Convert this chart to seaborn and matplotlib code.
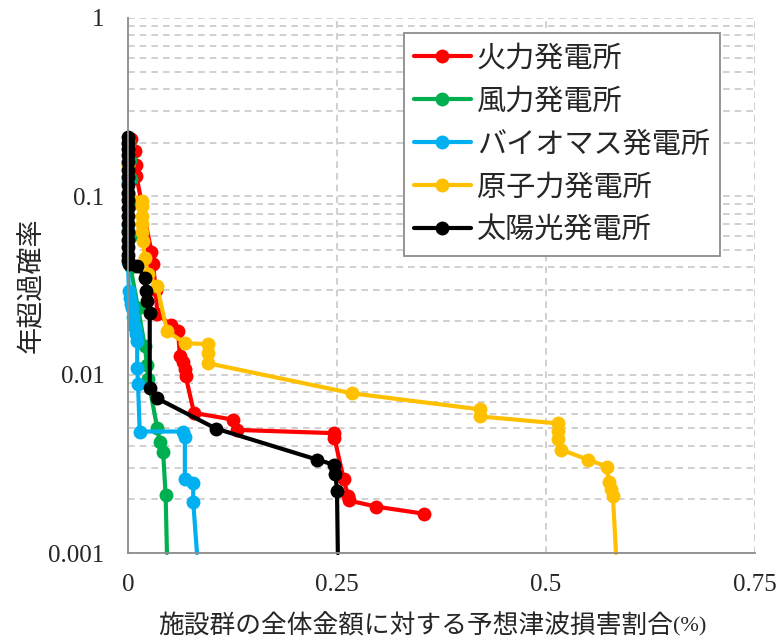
import matplotlib
matplotlib.use("Agg")
import matplotlib.pyplot as plt
import matplotlib.ticker as mticker
import seaborn as sns
import pandas as pd

# ---- data ----
labels = ["火力発電所", "風力発電所", "バイオマス発電所", "原子力発電所", "太陽光発電所"]
colors = ["#FF0000", "#00B050", "#00B0F0", "#FFC000", "#000000"]

x_red = [0.004, 0.008, 0.009, 0.010, 0.028, 0.030, 0.033, 0.035, 0.051, 0.060, 0.062,
         0.066, 0.068, 0.069, 0.079, 0.125, 0.130, 0.246, 0.247, 0.258, 0.263, 0.264,
         0.297, 0.354]
y_red = [0.21, 0.18, 0.15, 0.13, 0.049, 0.042, 0.030, 0.022, 0.019, 0.0176, 0.0127,
         0.0118, 0.0108, 0.0098, 0.0061, 0.0056, 0.0049, 0.0047, 0.0044, 0.0026, 0.0021,
         0.00197, 0.00182, 0.00166]

x_green = [0.001, 0.002, 0.003, 0.003, 0.003, 0.003, 0.012, 0.020, 0.0227, 0.024,
           0.035, 0.038, 0.042, 0.045, 0.0466]
y_green = [0.20, 0.16, 0.125, 0.09, 0.06, 0.040, 0.0237, 0.0145, 0.0114, 0.0095,
           0.0050, 0.0042, 0.0037, 0.00211, 0.001]

x_blue = [0.000, 0.000, 0.000, 0.001, 0.002, 0.004, 0.005, 0.006, 0.007, 0.008, 0.009,
          0.011, 0.011, 0.012, 0.014, 0.066, 0.068, 0.068, 0.078, 0.078, 0.0825]
y_blue = [0.12, 0.064, 0.043, 0.0295, 0.027, 0.025, 0.0237, 0.021, 0.019, 0.0183, 0.017,
          0.0154, 0.01086, 0.00883, 0.0048, 0.0048, 0.0045, 0.00261, 0.00248, 0.00194, 0.001]

x_yellow = [0.000, 0.000, 0.000, 0.0167, 0.0167, 0.0167, 0.0167, 0.017, 0.018, 0.020,
            0.024, 0.0347, 0.0467, 0.068, 0.0957, 0.0957, 0.0957, 0.268, 0.421, 0.421,
            0.514, 0.514, 0.514, 0.518, 0.550, 0.573, 0.575, 0.578, 0.580, 0.5837]
y_yellow = [0.20, 0.15, 0.105, 0.0946, 0.088, 0.078, 0.070, 0.063, 0.0563, 0.0452,
            0.0367, 0.0314, 0.01755, 0.01502, 0.01483, 0.01315, 0.01159, 0.00786, 0.00639,
            0.00583, 0.00533, 0.00482, 0.00433, 0.0038, 0.00334, 0.00305, 0.00251, 0.00229,
            0.0021, 0.001]

x_black = [0.0, 0.0, 0.0, 0.0, 0.0, 0.0, 0.0, 0.0, 0.0, 0.0, 0.0, 0.0, 0.0, 0.0, 0.0,
           0.0, 0.0, 0.0, 0.001, 0.011, 0.020, 0.0215, 0.023, 0.026, 0.026, 0.035, 0.105,
           0.226, 0.246, 0.248, 0.250, 0.251]
y_black = [0.214, 0.2, 0.185, 0.17, 0.155, 0.14, 0.128, 0.116, 0.105, 0.095, 0.086,
           0.078, 0.07, 0.063, 0.057, 0.052, 0.047, 0.044, 0.042, 0.0406, 0.0349, 0.0294,
           0.0259, 0.0222, 0.00838, 0.00736, 0.00499, 0.00334, 0.00313, 0.00279, 0.00224,
           0.001]

series_x = [x_red, x_green, x_blue, x_yellow, x_black]
series_y = [y_red, y_green, y_blue, y_yellow, y_black]

x_ticks = [0, 0.25, 0.5, 0.75]
x_ticklabels = ["0", "0.25", "0.5", "0.75"]
y_ticks = [0.001, 0.01, 0.1, 1]
y_ticklabels = ["0.001", "0.01", "0.1", "1"]

xlabel = "施設群の全体金額に対する予想津波損害割合"
xlabel_unit = "(%)"
ylabel = "年超過確率"

# ---- style ----
sns.set_theme(style="white")
plt.rcParams["font.family"] = ["Noto Sans CJK JP", "DejaVu Sans"]

fig = plt.figure(figsize=(7.8, 6.4), dpi=100)
ax = fig.add_axes([128 / 780, 1 - 553 / 640, 627 / 780, 535 / 640])

for xs, ys, lab, col in zip(series_x, series_y, labels, colors):
    df = pd.DataFrame({"x": xs, "y": ys})
    n = len(xs)
    marks = list(range(n - 1)) if ys[-1] <= 0.001 else list(range(n))
    sns.lineplot(data=df, x="x", y="y", sort=False, estimator=None, ax=ax,
                 color=col, linewidth=3.0, marker="o", markersize=10,
                 markeredgewidth=0, markevery=marks, label=lab, legend=False,
                 clip_on=False)

ax.set_yscale("log")
ax.set_xlim(0, 0.75)
ax.set_ylim(0.001, 1)

ax.set_xticks(x_ticks)
ax.set_xticklabels(x_ticklabels)
ax.yaxis.set_major_locator(mticker.FixedLocator(y_ticks))
ax.yaxis.set_major_formatter(mticker.FixedFormatter(y_ticklabels))
ax.yaxis.set_minor_locator(mticker.LogLocator(base=10, subs=range(2, 10)))
ax.yaxis.set_minor_formatter(mticker.NullFormatter())

for lbl in ax.get_xticklabels() + ax.get_yticklabels():
    lbl.set_family(["Liberation Serif"])
    lbl.set_fontsize(18)
ax.tick_params(axis="both", which="both", length=0)
ax.tick_params(axis="y", pad=17)
ax.tick_params(axis="x", pad=15)

grid_kw = dict(color="#C8C8C8", linestyle=(0, (4, 3)), linewidth=1.2)
ax.yaxis.grid(True, which="both", **grid_kw)
ax.xaxis.grid(True, which="major", **grid_kw)
ax.set_axisbelow(True)

for s in ["top", "right"]:
    ax.spines[s].set_visible(False)
for s in ["left", "bottom"]:
    ax.spines[s].set_color("#8C8C8C")
    ax.spines[s].set_linewidth(1.3)

ax.set_xlabel("")
ax.set_ylabel(ylabel, fontsize=19.5, family=["Noto Sans CJK JP"])
ax.yaxis.set_label_coords(-0.132, 0.5)

xl = fig.text(158 / 780, 1 - 627 / 640, xlabel, fontsize=18.5,
              family=["Noto Sans CJK JP"], ha="left", va="center")
ax.annotate(xlabel_unit, xy=(1, 0.12), xycoords=xl, ha="left", va="bottom",
            fontsize=16, family=["Liberation Serif"], annotation_clip=False)

leg = ax.legend(loc="upper right", bbox_to_anchor=(0.944, 0.972), borderaxespad=0,
                prop={"family": ["Noto Sans CJK JP"], "size": 21},
                frameon=True, fancybox=False, framealpha=1, edgecolor="#8C8C8C",
                handlelength=1.95, handletextpad=0.2, labelspacing=0.45,
                borderpad=0.35)
leg.get_frame().set_linewidth(1.3)
leg.set_zorder(10)

fig.savefig("out.png", dpi=100)
